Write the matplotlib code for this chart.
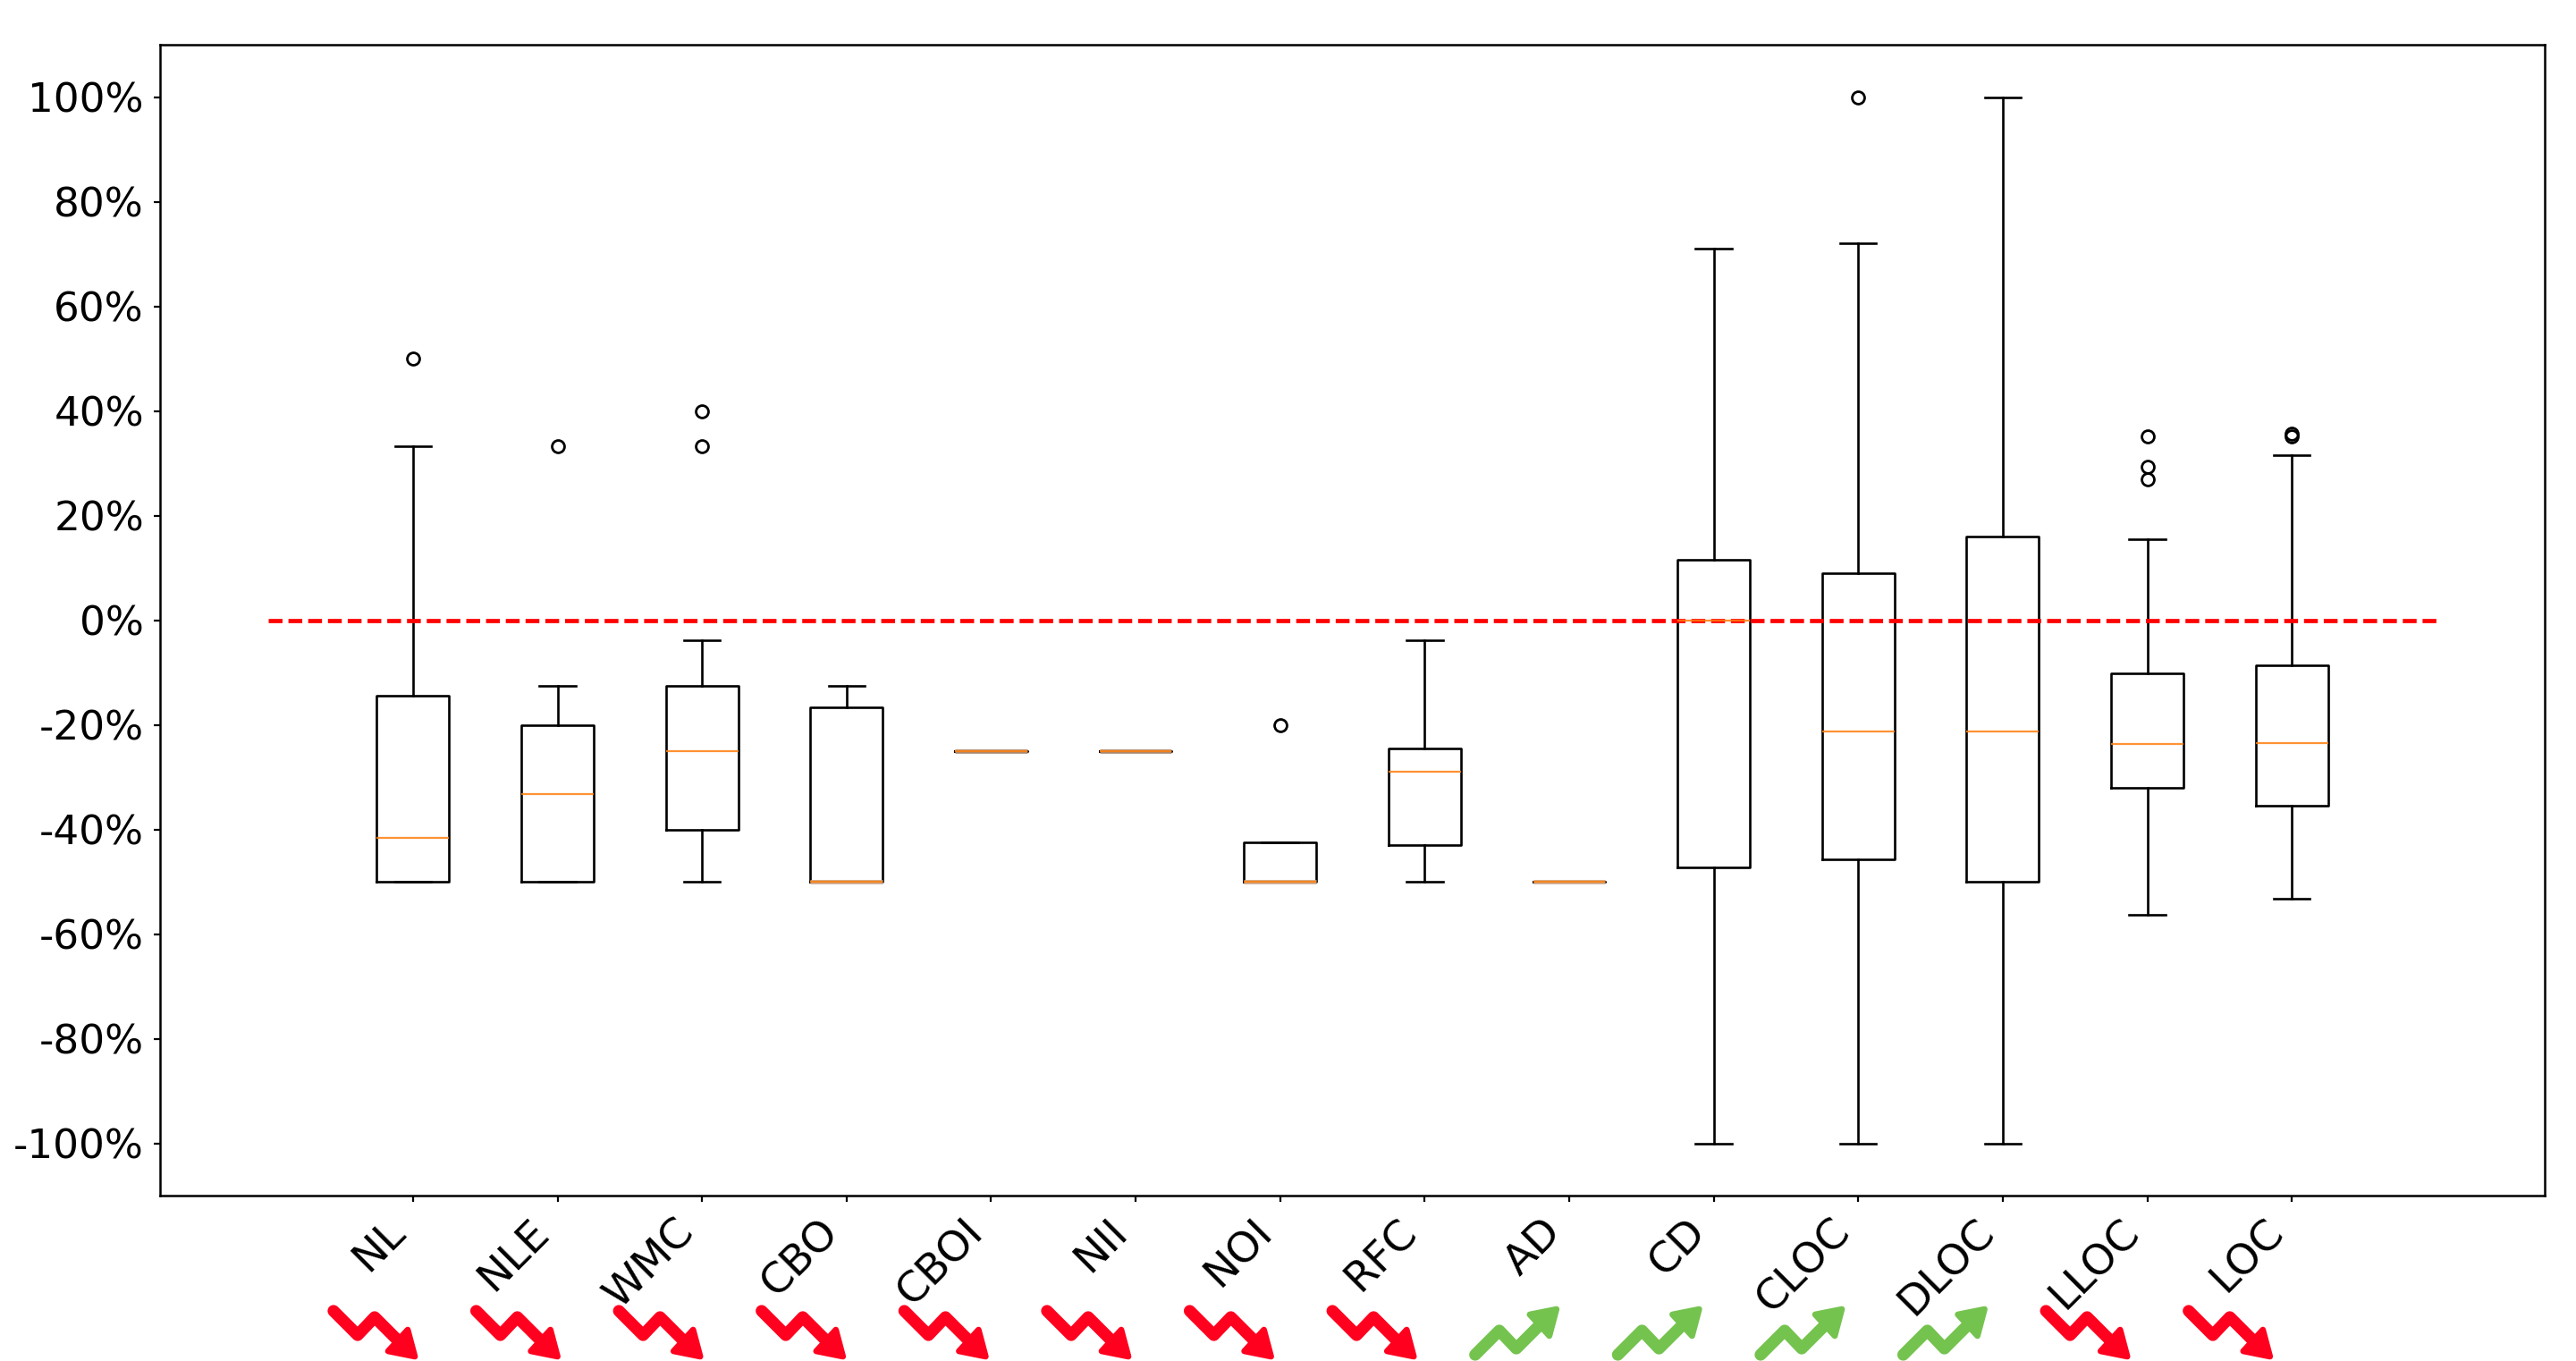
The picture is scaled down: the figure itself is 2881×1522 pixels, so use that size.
import matplotlib
matplotlib.use('Agg')
import matplotlib.pyplot as plt
from matplotlib.lines import Line2D
from matplotlib.patches import Polygon
from matplotlib.ticker import FuncFormatter

# metric names and whether each one went up or down
metrics = ['NL', 'NLE', 'WMC', 'CBO', 'CBOI', 'NII', 'NOI', 'RFC', 'AD', 'CD', 'CLOC', 'DLOC', 'LLOC', 'LOC']
trend = ['down', 'down', 'down', 'down', 'down', 'down', 'down', 'down', 'up', 'up', 'up', 'up', 'down', 'down']

# box values, in percent
whisker_hi = [33.3, -12.5, -3.8, -12.5, -25, -25, -42.5, -3.8, -50, 71, 72, 100, 15.5, 31.5]
q3 = [-14.5, -20, -12.5, -16.7, -25, -25, -42.5, -24.6, -50, 11.6, 9, 16, -10.2, -8.7]
median = [-41.7, -33.3, -25, -50, -25, -25, -50, -28.9, -50, 0, -21.3, -21.3, -23.7, -23.5]
q1 = [-50, -50, -40, -50, -25, -25, -50, -43, -50, -47.2, -45.8, -50, -32, -35.5]
whisker_lo = [-50, -50, -50, -50, -25, -25, -50, -50, -50, -100, -100, -100, -56.3, -53.2]
outliers = [[50], [33.3], [40, 33.3], [], [], [], [-20], [], [], [], [100], [], [35.2, 29.3, 27], [35.2, 35.7]]

W, H = 2881, 1522
DPI = 200

fig = plt.figure(figsize=(W / DPI, H / DPI), dpi=DPI)
ax = fig.add_axes([179 / W, (H - 1337) / H, (2846 - 179) / W, (1337 - 50) / H])

stats = []
for i in range(len(metrics)):
    stats.append({'label': metrics[i], 'whishi': whisker_hi[i], 'q3': q3[i], 'med': median[i],
                  'q1': q1[i], 'whislo': whisker_lo[i], 'fliers': outliers[i]})

lw = 0.95
ax.bxp(stats, positions=range(1, len(metrics) + 1), widths=0.5,
       boxprops=dict(linewidth=lw), whiskerprops=dict(linewidth=lw), capprops=dict(linewidth=lw),
       medianprops=dict(linewidth=0.8, color='#ff7f0e', alpha=0.85, zorder=3),
       flierprops=dict(marker='o', markersize=5, markerfacecolor='none', markeredgecolor='black', markeredgewidth=1.0))

# flat boxes look like a brownish band in the original, the median sits on top of it
for i in range(len(metrics)):
    if q1[i] == q3[i] or median[i] == q1[i]:
        band = '#a98a70' if q1[i] == q3[i] and q1[i] == -25 else '#c9a88c'
        ax.hlines(q1[i], i + 0.75, i + 1.25, color=band, linewidth=1.7, zorder=2.5)

ax.plot([0, 15], [0, 0], color='red', linewidth=1.7, dashes=(3.27, 1.41))

ax.set_xlim(-0.75, 15.75)
ax.set_ylim(-110, 110)
ax.set_yticks(range(-100, 101, 20))
ax.yaxis.set_major_formatter(FuncFormatter(lambda v, pos: '%d%%' % v))
ax.tick_params(axis='y', labelsize=16.3, width=0.8, length=2.5, pad=4)
ax.tick_params(axis='x', labelsize=17, width=0.8, length=2.5, pad=4)
plt.setp(ax.get_xticklabels(), rotation=45, ha='right')
for sp in ax.spines.values():
    sp.set_linewidth(0.9)

# little trend arrows under the tick labels, in pixels from the left end of each arrow
arrow_x0 = 370
arrow_step = 159.6
up_line = [(3, 1515), (30, 1488), (49, 1508), (76, 1481)]
up_head = [(94, 1464), (86, 1494), (64, 1470)]
flip = 2981

for i, name in enumerate(metrics):
    x0 = arrow_x0 + i * arrow_step
    if trend[i] == 'down':
        color = '#ff001f'
        pts = [(p[0], flip - p[1]) for p in up_line]
        head = [(p[0], flip - p[1]) for p in up_head]
    else:
        color = '#75c34f'
        pts, head = up_line, up_head
    xs = [(x0 + p[0]) / W for p in pts]
    ys = [(H - p[1]) / H for p in pts]
    fig.add_artist(Line2D(xs, ys, color=color, linewidth=4.8, solid_joinstyle='round', solid_capstyle='round',
                          transform=fig.transFigure))
    fig.add_artist(Polygon([((x0 + p[0]) / W, (H - p[1]) / H) for p in head], closed=True, facecolor=color,
                           edgecolor=color, linewidth=2.4, joinstyle='round', transform=fig.transFigure))

fig.savefig('out.png', dpi=DPI)
